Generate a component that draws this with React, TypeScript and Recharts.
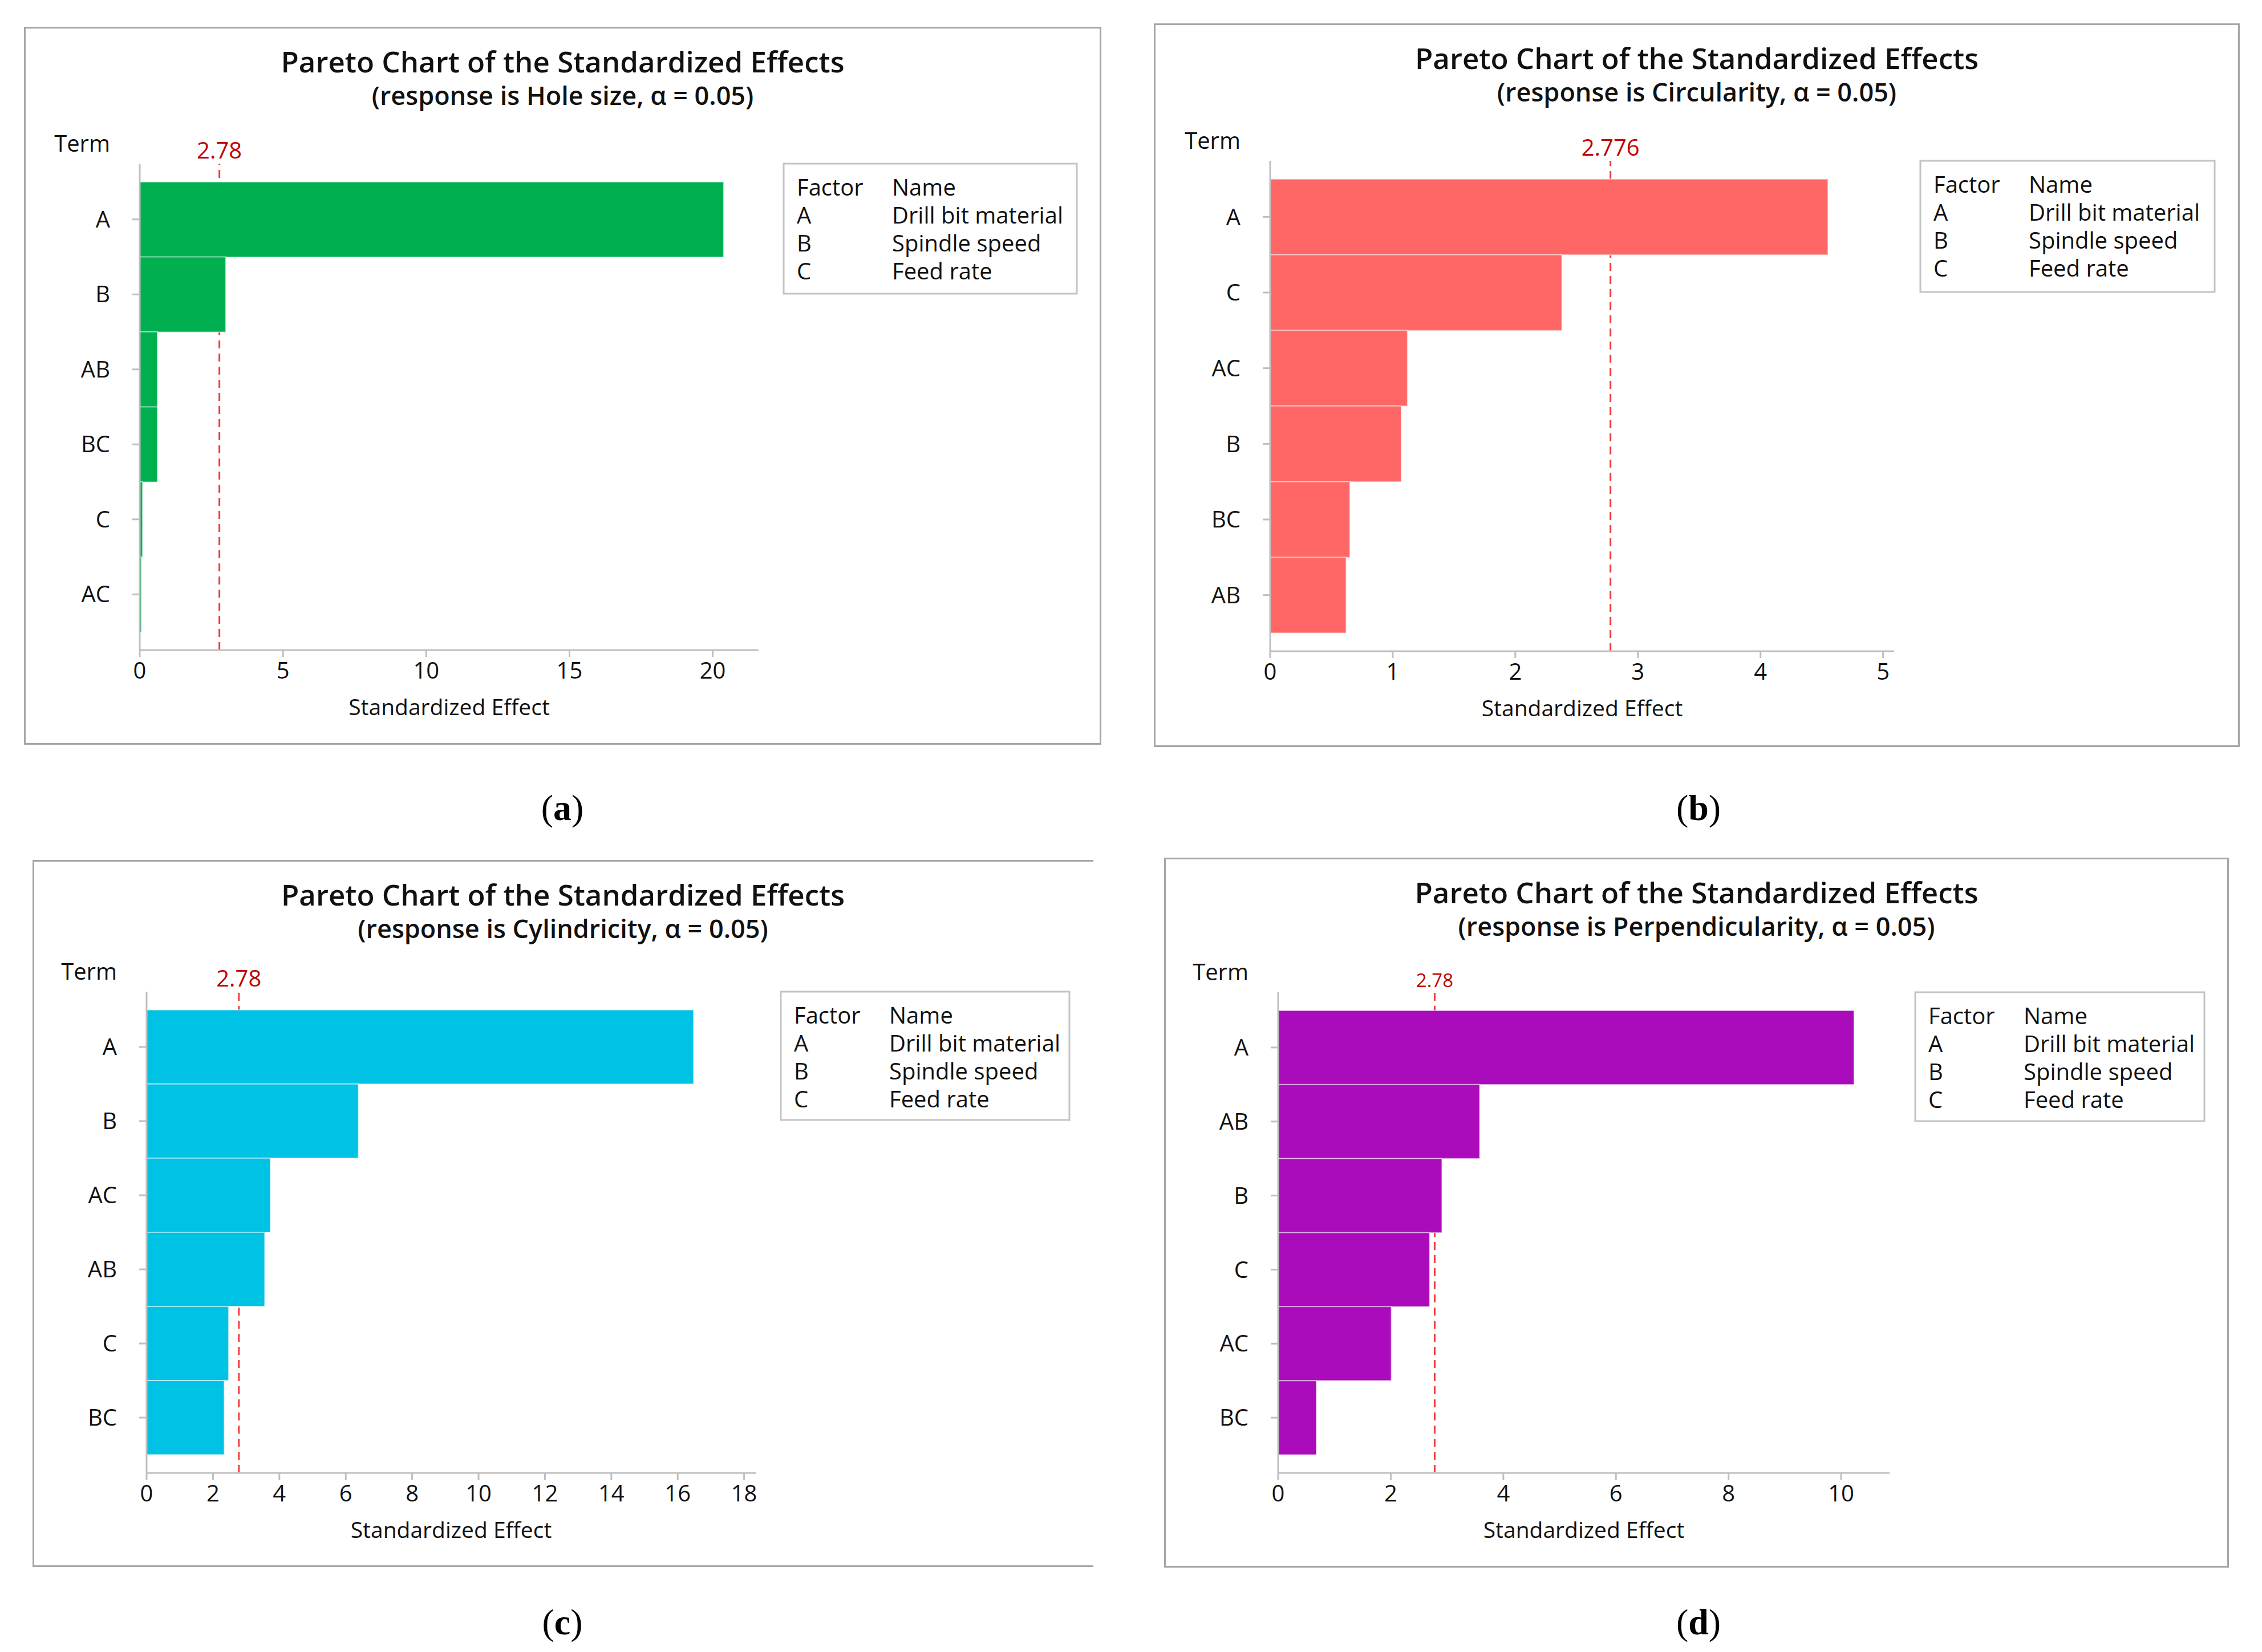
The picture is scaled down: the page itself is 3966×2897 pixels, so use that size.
import React from "react";
import { Bar, BarChart, ReferenceLine, XAxis, YAxis } from "recharts";

// effects, sorted as drawn (top to bottom)
const holeTerms = ["A", "B", "AB", "BC", "C", "AC"];
const holeEffects = [20.38, 3.0, 0.62, 0.62, 0.1, 0.06];
const holeTicks = [0, 5, 10, 15, 20];

const circTerms = ["A", "C", "AC", "B", "BC", "AB"];
const circEffects = [4.55, 2.38, 1.12, 1.07, 0.65, 0.62];
const circTicks = [0, 1, 2, 3, 4, 5];

const cylTerms = ["A", "B", "AC", "AB", "C", "BC"];
const cylEffects = [16.48, 6.38, 3.73, 3.56, 2.47, 2.34];
const cylTicks = [0, 2, 4, 6, 8, 10, 12, 14, 16, 18];

const perpTerms = ["A", "AB", "B", "C", "AC", "BC"];
const perpEffects = [10.23, 3.58, 2.91, 2.69, 2.01, 0.68];
const perpTicks = [0, 2, 4, 6, 8, 10];

const factorCodes = ["A", "B", "C"];
const factorNames = ["Drill bit material", "Spindle speed", "Feed rate"];

const FONT = "'Segoe UI', 'Open Sans', sans-serif";
const GRID = "#BFBFBF";
const INK = "#111";
const YW = 120;
const XH = 130;

// [left, top, right, bottom] in page pixels
const panels = [
  {
    id: "a", response: "Hole size", terms: holeTerms, effects: holeEffects, ticks: holeTicks, max: 21.6,
    critical: 2.78, criticalLabel: "2.78", labelSize: 40, color: "#00B050",
    frame: [42, 47, 1931, 1306], plot: [245, 287, 1330, 1140], legend: [1374, 287, 1888, 515],
    caption: [986, 1438],
  },
  {
    id: "b", response: "Circularity", terms: circTerms, effects: circEffects, ticks: circTicks, max: 5.09,
    critical: 2.776, criticalLabel: "2.776", labelSize: 40, color: "#FF6666",
    frame: [2023, 41, 3927, 1310], plot: [2227, 282, 3321, 1142], legend: [3367, 282, 3883, 512],
    caption: [2978, 1438],
  },
  {
    id: "c", response: "Cylindricity", terms: cylTerms, effects: cylEffects, ticks: cylTicks, max: 18.35,
    critical: 2.78, criticalLabel: "2.78", labelSize: 40, color: "#00C2E4", openRight: true,
    frame: [57, 1508, 1917, 2748], plot: [257, 1739, 1325, 2583], legend: [1369, 1739, 1875, 1964],
    caption: [986, 2866],
  },
  {
    id: "d", response: "Perpendicularity", terms: perpTerms, effects: perpEffects, ticks: perpTicks, max: 10.86,
    critical: 2.78, criticalLabel: "2.78", labelSize: 33, color: "#AA0CBC",
    frame: [2041, 1504, 3908, 2749], plot: [2241, 1740, 3313, 2583], legend: [3358, 1740, 3865, 1966],
    caption: [2978, 2866],
  },
];

function Pareto({ p }: any) {
  const [fl, ft, fr, fb] = p.frame;
  const [pl, pt, pr, pb] = p.plot;
  const [ll, lt, lr, lb] = p.legend;
  const W = fr - fl;
  const H = fb - ft;
  const data = p.terms.map((t: string, i: number) => ({ term: t, effect: p.effects[i] }));
  const line = { stroke: GRID, strokeWidth: 3 };

  return (
    <div style={{ position: "absolute", left: fl, top: ft, width: W, height: H, fontFamily: FONT }}>
      <div
        style={{
          position: "absolute", inset: 0, boxSizing: "border-box",
          border: "3px solid #A6A6A6", borderRight: p.openRight ? "none" : "3px solid #A6A6A6",
        }}
      />
      <BarChart
        width={W}
        height={H}
        layout="vertical"
        data={data}
        barCategoryGap={0}
        barGap={0}
        margin={{ top: pt - ft, right: fr - pr, left: pl - fl - YW, bottom: fb - pb - XH }}
      >
        <XAxis
          type="number"
          dataKey="effect"
          domain={[0, p.max]}
          ticks={p.ticks}
          allowDataOverflow
          height={XH}
          axisLine={line}
          tickLine={line}
          tickSize={12}
          tickMargin={10}
          tick={{ fill: INK, fontSize: 40 }}
          label={{ value: "Standardized Effect", position: "insideBottom", offset: 16, fill: INK, fontSize: 39 }}
        />
        <XAxis xAxisId="top" orientation="top" type="number" domain={[0, 1]} height={0} tick={false} tickLine={false} axisLine={line} />
        <YAxis
          type="category"
          dataKey="term"
          width={YW}
          interval={0}
          padding={{ top: 32, bottom: 32 }}
          axisLine={line}
          tickLine={line}
          tickSize={13}
          tickMargin={39}
          tick={{ fill: INK, fontSize: 40 }}
        />
        <YAxis yAxisId="right" orientation="right" type="number" domain={[0, 1]} width={0} tick={false} tickLine={false} axisLine={line} />
        <ReferenceLine
          x={p.critical}
          zIndex={100}
          stroke="#F03C3C"
          strokeWidth={3}
          strokeDasharray="14 9"
          label={{ value: p.criticalLabel, position: "top", offset: 9, fill: "#C00000", fontSize: p.labelSize }}
        />
        <Bar dataKey="effect" fill={p.color} stroke="#FFFFFF" strokeOpacity={0.5} strokeWidth={2} isAnimationActive={false} />
      </BarChart>
      <svg width={W} height={H} style={{ position: "absolute", left: 0, top: 0, pointerEvents: "none" }}>
        <text x={W / 2} y={80} textAnchor="middle" fontSize={51} fontWeight={600} fill={INK}>
          Pareto Chart of the Standardized Effects
        </text>
        <text x={W / 2} y={137} textAnchor="middle" fontSize={45} fontWeight={600} fill={INK}>
          {`(response is ${p.response}, α = 0.05)`}
        </text>
        <text x={pl - fl - 52} y={pt - ft - 21} textAnchor="end" fontSize={40} fill={INK}>
          Term
        </text>
        <rect x={ll - fl} y={lt - ft} width={lr - ll} height={lb - lt} fill="#fff" stroke="#C4C4C4" strokeWidth={3} />
        <text x={ll - fl + 23} y={lt - ft + 56} fontSize={40} fill={INK}>Factor</text>
        <text x={ll - fl + 190} y={lt - ft + 56} fontSize={40} fill={INK}>Name</text>
        {factorCodes.map((c, i) => (
          <g key={c}>
            <text x={ll - fl + 23} y={lt - ft + 105 + i * 49} fontSize={40} fill={INK}>{c}</text>
            <text x={ll - fl + 190} y={lt - ft + 105 + i * 49} fontSize={40} fill={INK}>{factorNames[i]}</text>
          </g>
        ))}
      </svg>
    </div>
  );
}

export default function App() {
  return (
    <div style={{ position: "absolute", left: 0, top: 0, width: 3966, height: 2897, background: "#fff" }}>
      {panels.map((p) => (
        <Pareto key={p.id} p={p} />
      ))}
      <svg width={3966} height={2897} style={{ position: "absolute", left: 0, top: 0, pointerEvents: "none" }}>
        {panels.map((p) => (
          <text key={p.id} x={p.caption[0]} y={p.caption[1]} textAnchor="middle" fontSize={64} fill="#000" fontFamily="'Liberation Serif', 'Times New Roman', serif">
            (<tspan fontWeight={700}>{p.id}</tspan>)
          </text>
        ))}
      </svg>
    </div>
  );
}
